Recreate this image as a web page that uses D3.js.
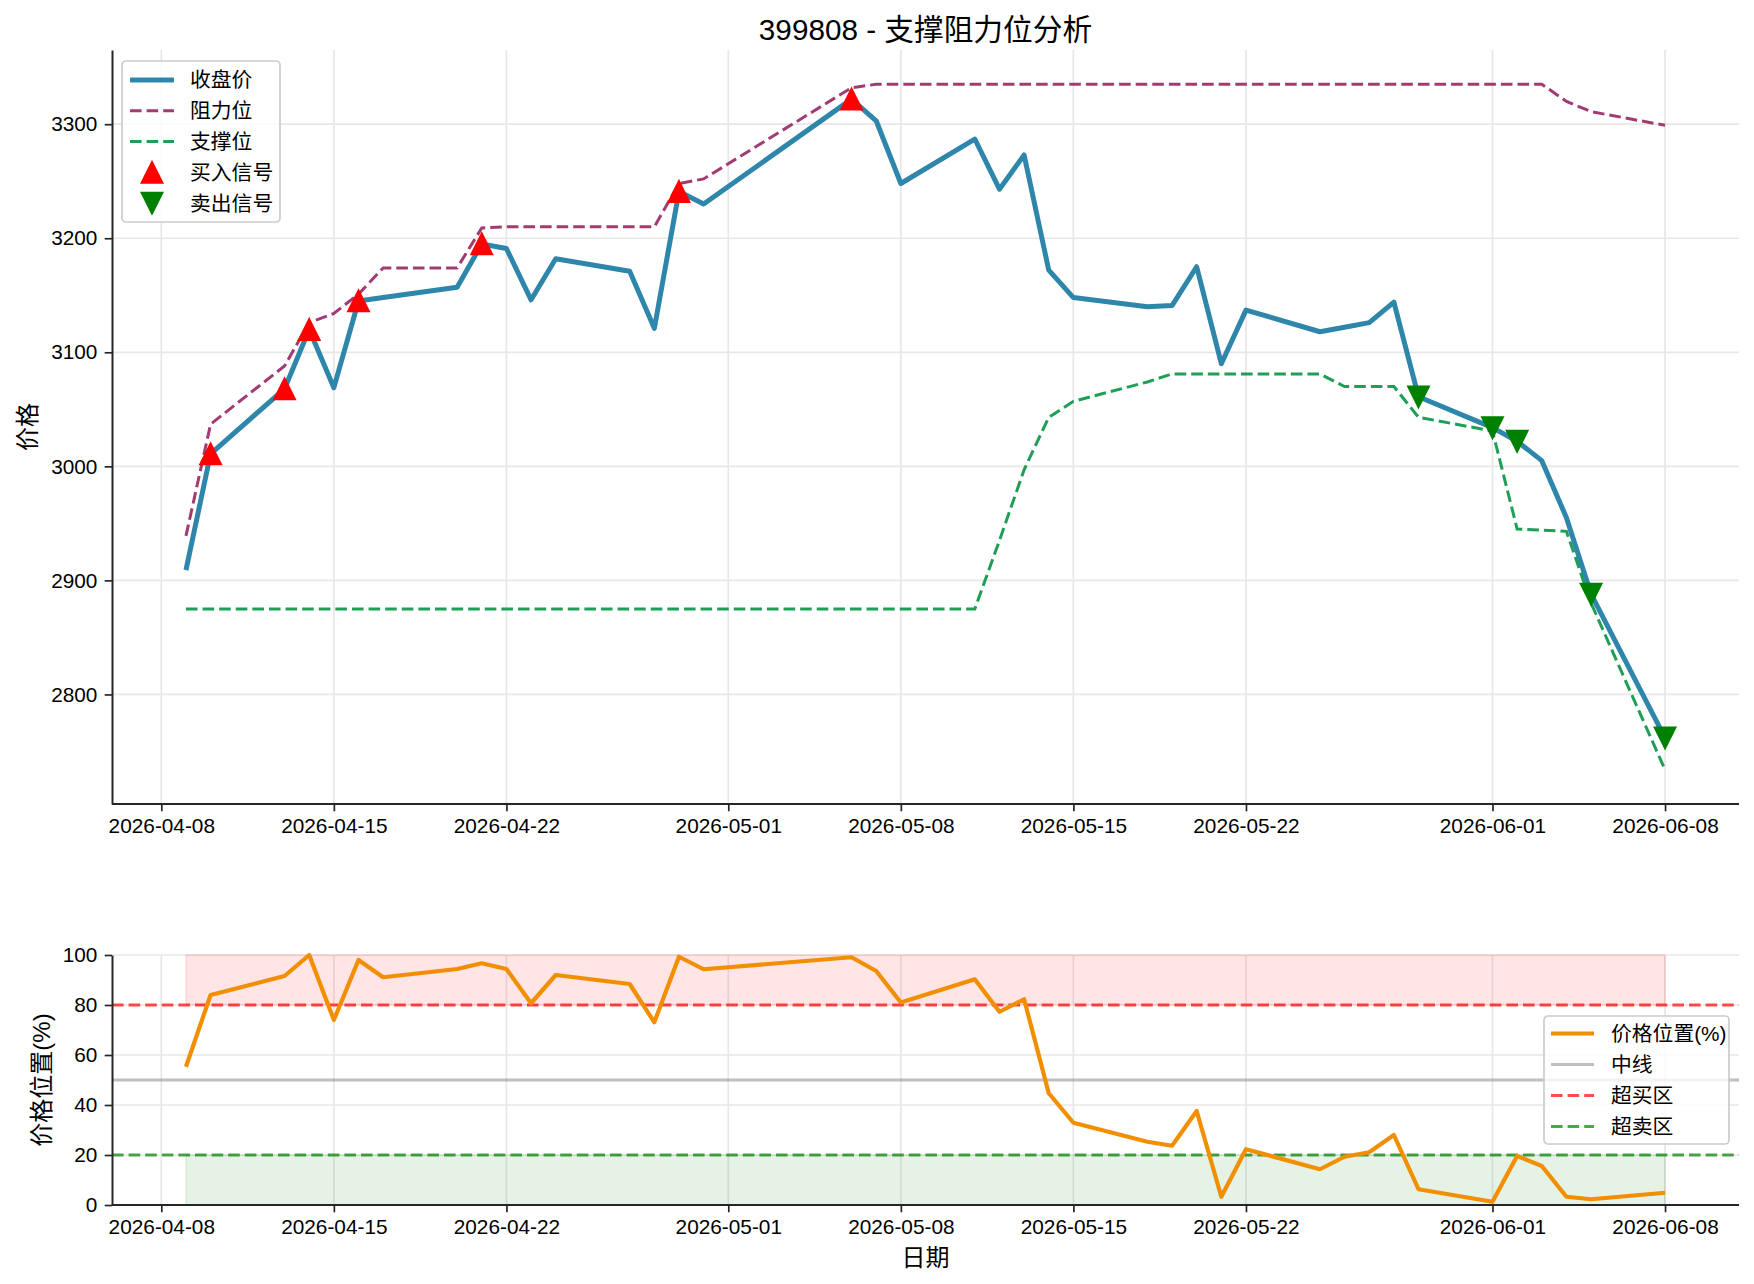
<!DOCTYPE html>
<html>
<head>
<meta charset="utf-8">
<script src="https://cdn.jsdelivr.net/npm/d3@7"></script>
<style>
    body { margin: 0; background: #ffffff; }
    svg text { font-family: "Liberation Sans", "Noto Sans CJK SC", sans-serif; fill: #000000; }
</style>
</head>
<body>
<div id="chart"></div>
<script>
// Trading days shown on the chart
const dates = [
    "2026-04-09", "2026-04-10", "2026-04-13", "2026-04-14", "2026-04-15", "2026-04-16", "2026-04-17",
    "2026-04-20", "2026-04-21", "2026-04-22", "2026-04-23", "2026-04-24", "2026-04-27", "2026-04-28",
    "2026-04-29", "2026-04-30", "2026-05-06", "2026-05-07", "2026-05-08", "2026-05-11", "2026-05-12",
    "2026-05-13", "2026-05-14", "2026-05-15", "2026-05-18", "2026-05-19", "2026-05-20", "2026-05-21",
    "2026-05-22", "2026-05-25", "2026-05-26", "2026-05-27", "2026-05-28", "2026-05-29", "2026-06-01",
    "2026-06-02", "2026-06-03", "2026-06-04", "2026-06-05", "2026-06-08"
];

const closePrice = [
    2909, 3011, 3068, 3120, 3069, 3145, 3148, 3157, 3195, 3191,
    3146, 3182, 3171, 3121, 3241, 3230, 3322, 3303, 3248, 3287,
    3243, 3273, 3172, 3148, 3140, 3141, 3175, 3090, 3137, 3118,
    3122, 3126, 3144, 3061, 3034, 3022, 3005, 2955, 2888, 2762
];

const resistance = [
    2939, 3037, 3088, 3126, 3134, 3151, 3174, 3174, 3209, 3210,
    3210, 3210, 3210, 3210, 3248, 3252, 3332, 3335, 3335, 3335,
    3335, 3335, 3335, 3335, 3335, 3335, 3335, 3335, 3335, 3335,
    3335, 3335, 3335, 3335, 3335, 3335, 3335, 3320, 3311, 3299
];

const support = [
    2875, 2875, 2875, 2875, 2875, 2875, 2875, 2875, 2875, 2875,
    2875, 2875, 2875, 2875, 2875, 2875, 2875, 2875, 2875, 2875,
    2935, 2997, 3043, 3057, 3074, 3081, 3081, 3081, 3081, 3081,
    3070, 3070, 3070, 3043, 3031, 2945, 2944, 2943, 2880, 2734
];

// Price position inside the support/resistance band (%)
const position = [
    55.3, 84.0, 91.6, 100.0, 74.0, 98.0, 91.1, 94.4, 96.7, 94.4,
    80.7, 92.0, 88.4, 73.1, 99.3, 94.3, 99.1, 93.6, 81.0, 90.3,
    77.3, 82.3, 44.7, 32.9, 25.3, 23.7, 37.6, 3.3, 22.3, 14.3,
    19.3, 21.1, 28.0, 6.3, 1.3, 19.6, 15.6, 3.3, 2.3, 4.9
];

const buyDates = ["2026-04-10", "2026-04-13", "2026-04-14", "2026-04-16", "2026-04-21", "2026-04-29", "2026-05-06"];
const sellDates = ["2026-05-29", "2026-06-01", "2026-06-02", "2026-06-05", "2026-06-08"];

// Tick labels
const dateTicks = ["2026-04-08", "2026-04-15", "2026-04-22", "2026-05-01", "2026-05-08",
                   "2026-05-15", "2026-05-22", "2026-06-01", "2026-06-08"];
const priceTicks = [2800, 2900, 3000, 3100, 3200, 3300];
const positionTicks = [0, 20, 40, 60, 80, 100];
const zoneLevels = [80, 50, 20];   // overbought, middle, oversold

// Layout (pixels)
const width = 1754;
const height = 1284;
const plotLeft = 112;
const plotRight = 1739;
const priceTop = 50;
const priceBottom = 804;
const posTop = 955;
const posBottom = 1205;
const fontSize = 20.8;
const labelSize = 24;

const COLORS = {
    close: "#2E86AB",
    resistance: "#A23B72",
    support: "#1E9E56",
    position: "#F18F01",
    buy: "#FF0000",
    sell: "#008000",
    spine: "#262626",
    grid: "#e7e7e7"
};

const parse = d3.timeParse("%Y-%m-%d");
const rows = dates.map((d, i) => ({
    date: parse(d),
    close: closePrice[i],
    res: resistance[i],
    sup: support[i],
    pos: position[i]
}));
const closeByDate = new Map(dates.map((d, i) => [d, closePrice[i]]));

const svg = d3.select("#chart").append("svg")
    .attr("width", width)
    .attr("height", height)
    .attr("viewBox", `0 0 ${width} ${height}`);

// x scale: data range plus 5% margin on both sides
const first = rows[0].date;
const last = rows[rows.length - 1].date;
const span = (last - first) * 0.05;
const x = d3.scaleTime()
    .domain([new Date(+first - span), new Date(+last + span)])
    .range([plotLeft, plotRight]);

// y scale for price: all series plus 5% margin
const allPrices = closePrice.concat(resistance, support);
const lo = d3.min(allPrices);
const hi = d3.max(allPrices);
const yPad = (hi - lo) * 0.05;
const yPrice = d3.scaleLinear().domain([lo - yPad, hi + yPad]).range([priceBottom, priceTop]);
const yPos = d3.scaleLinear().domain([0, 100]).range([posBottom, posTop]);

const xTickDates = dateTicks.map(parse);

// Grid lines for one panel
function drawGrid(yScale, yTicks, top, bottom) {
    const g = svg.append("g").attr("class", "grid");
    g.selectAll(".vgrid")
        .data(xTickDates)
        .enter()
        .append("line")
        .attr("x1", d => x(d)).attr("x2", d => x(d))
        .attr("y1", top).attr("y2", bottom)
        .attr("stroke", COLORS.grid)
        .attr("stroke-width", 1.7);
    g.selectAll(".hgrid")
        .data(yTicks)
        .enter()
        .append("line")
        .attr("x1", plotLeft).attr("x2", plotRight)
        .attr("y1", d => yScale(d)).attr("y2", d => yScale(d))
        .attr("stroke", COLORS.grid)
        .attr("stroke-width", 1.7);
}

// Axes with only left and bottom spines
function drawAxes(yScale, yTicks, bottom) {
    const xAxis = svg.append("g")
        .attr("transform", `translate(0,${bottom})`)
        .call(d3.axisBottom(x)
            .tickValues(xTickDates)
            .tickFormat(d3.timeFormat("%Y-%m-%d"))
            .tickSize(7.3)
            .tickPadding(7)
            .tickSizeOuter(0));
    const yAxis = svg.append("g")
        .attr("transform", `translate(${plotLeft},0)`)
        .call(d3.axisLeft(yScale)
            .tickValues(yTicks)
            .tickFormat(d3.format("d"))
            .tickSize(7.3)
            .tickPadding(7.3)
            .tickSizeOuter(0));
    [xAxis, yAxis].forEach(a => {
        a.attr("font-size", fontSize).attr("font-family", null);
        a.select(".domain").attr("stroke", COLORS.spine).attr("stroke-width", 2);
        a.selectAll(".tick line").attr("stroke", COLORS.spine).attr("stroke-width", 1.7);
    });
    xAxis.select(".domain").attr("d", `M${plotLeft},0H${plotRight}`);
}

// Triangle marker, matplotlib style (centered box)
function triangle(up, half) {
    if (up) return `M0,${-half}L${half},${half}L${-half},${half}Z`;
    return `M0,${half}L${half},${-half}L${-half},${-half}Z`;
}

// ---------- Price panel ----------
drawGrid(yPrice, priceTicks, priceTop, priceBottom);

const priceLine = key => d3.line().x(d => x(d.date)).y(d => yPrice(d[key]));

svg.append("path")
    .datum(rows)
    .attr("d", priceLine("close"))
    .attr("fill", "none")
    .attr("stroke", COLORS.close)
    .attr("stroke-width", 5)
    .attr("stroke-linejoin", "round");

svg.append("path")
    .datum(rows)
    .attr("d", priceLine("res"))
    .attr("fill", "none")
    .attr("stroke", COLORS.resistance)
    .attr("stroke-width", 3)
    .attr("stroke-dasharray", "11.6,5");

svg.append("path")
    .datum(rows)
    .attr("d", priceLine("sup"))
    .attr("fill", "none")
    .attr("stroke", COLORS.support)
    .attr("stroke-width", 3)
    .attr("stroke-dasharray", "11.6,5");

svg.selectAll(".buy")
    .data(buyDates)
    .enter()
    .append("path")
    .attr("class", "buy")
    .attr("transform", d => `translate(${x(parse(d))},${yPrice(closeByDate.get(d))})`)
    .attr("d", triangle(true, 10.4))
    .attr("fill", COLORS.buy)
    .attr("stroke", COLORS.buy)
    .attr("stroke-width", 2);

svg.selectAll(".sell")
    .data(sellDates)
    .enter()
    .append("path")
    .attr("class", "sell")
    .attr("transform", d => `translate(${x(parse(d))},${yPrice(closeByDate.get(d))})`)
    .attr("d", triangle(false, 10.4))
    .attr("fill", COLORS.sell)
    .attr("stroke", COLORS.sell)
    .attr("stroke-width", 2);

drawAxes(yPrice, priceTicks, priceBottom);

// Price legend
const legend1 = svg.append("g").attr("transform", "translate(122,61)");
legend1.append("rect")
    .attr("width", 158).attr("height", 161).attr("rx", 4)
    .attr("fill", "rgba(255,255,255,0.8)")
    .attr("stroke", "#cccccc").attr("stroke-width", 1.7);
const legend1Items = [
    { label: "收盘价", type: "line", color: COLORS.close, w: 5 },
    { label: "阻力位", type: "dash", color: COLORS.resistance, w: 3 },
    { label: "支撑位", type: "dash", color: COLORS.support, w: 3 },
    { label: "买入信号", type: "up", color: COLORS.buy },
    { label: "卖出信号", type: "down", color: COLORS.sell }
];
legend1Items.forEach((item, i) => {
    const cy = 19 + i * 30.8;
    if (item.type === "up" || item.type === "down") {
        legend1.append("path")
            .attr("transform", `translate(30,${cy})`)
            .attr("d", triangle(item.type === "up", 10.4))
            .attr("fill", item.color).attr("stroke", item.color).attr("stroke-width", 2);
    } else {
        legend1.append("line")
            .attr("x1", 8).attr("x2", 52).attr("y1", cy).attr("y2", cy)
            .attr("stroke", item.color).attr("stroke-width", item.w)
            .attr("stroke-dasharray", item.type === "dash" ? "11.6,5" : null);
    }
    legend1.append("text")
        .attr("x", 68).attr("y", cy).attr("dy", "0.36em")
        .attr("font-size", fontSize)
        .text(item.label);
});

// ---------- Position panel ----------
drawGrid(yPos, positionTicks, posTop, posBottom);

// Shaded overbought / oversold zones across the data range
const zones = [[zoneLevels[0], 100, "rgba(255,0,0,0.1)"], [0, zoneLevels[2], "rgba(0,128,0,0.1)"]];
svg.selectAll(".zone")
    .data(zones)
    .enter()
    .append("rect")
    .attr("class", "zone")
    .attr("x", x(first))
    .attr("width", x(last) - x(first))
    .attr("y", d => yPos(d[1]))
    .attr("height", d => yPos(d[0]) - yPos(d[1]))
    .attr("fill", d => d[2])
    .attr("stroke", d => d[2])
    .attr("stroke-width", 1.5);

const levelStyles = [
    { color: "rgba(255,0,0,0.7)", dash: "11.6,5" },
    { color: "rgba(128,128,128,0.5)", dash: null },
    { color: "rgba(0,128,0,0.7)", dash: "11.6,5" }
];
svg.selectAll(".level")
    .data(zoneLevels)
    .enter()
    .append("line")
    .attr("class", "level")
    .attr("x1", plotLeft).attr("x2", plotRight)
    .attr("y1", d => yPos(d)).attr("y2", d => yPos(d))
    .attr("stroke", (d, i) => levelStyles[i].color)
    .attr("stroke-width", 3)
    .attr("stroke-dasharray", (d, i) => levelStyles[i].dash);

svg.append("path")
    .datum(rows)
    .attr("d", d3.line().x(d => x(d.date)).y(d => yPos(d.pos)))
    .attr("fill", "none")
    .attr("stroke", COLORS.position)
    .attr("stroke-width", 4.2)
    .attr("stroke-linejoin", "round");

drawAxes(yPos, positionTicks, posBottom);

// Position legend
const legend2 = svg.append("g").attr("transform", "translate(1544,1016)");
legend2.append("rect")
    .attr("width", 185).attr("height", 128).attr("rx", 4)
    .attr("fill", "rgba(255,255,255,0.8)")
    .attr("stroke", "#cccccc").attr("stroke-width", 1.7);
const legend2Items = [
    { label: "价格位置(%)", color: COLORS.position, w: 4.2, dash: null },
    { label: "中线", color: levelStyles[1].color, w: 3, dash: null },
    { label: "超买区", color: levelStyles[0].color, w: 3, dash: "11.6,5" },
    { label: "超卖区", color: levelStyles[2].color, w: 3, dash: "11.6,5" }
];
legend2Items.forEach((item, i) => {
    const cy = 17.5 + i * 31;
    legend2.append("line")
        .attr("x1", 7).attr("x2", 50).attr("y1", cy).attr("y2", cy)
        .attr("stroke", item.color).attr("stroke-width", item.w)
        .attr("stroke-dasharray", item.dash);
    legend2.append("text")
        .attr("x", 67).attr("y", cy).attr("dy", "0.36em")
        .attr("font-size", fontSize)
        .text(item.label);
});

// ---------- Titles and labels ----------
const midX = (plotLeft + plotRight) / 2;
svg.append("text")
    .attr("x", midX).attr("y", 40)
    .attr("text-anchor", "middle")
    .attr("font-size", 29.7)
    .text("399808 - 支撑阻力位分析");

svg.append("text")
    .attr("transform", `translate(36,${(priceTop + priceBottom) / 2}) rotate(-90)`)
    .attr("text-anchor", "middle")
    .attr("font-size", labelSize)
    .text("价格");

svg.append("text")
    .attr("transform", `translate(50,${(posTop + posBottom) / 2}) rotate(-90)`)
    .attr("text-anchor", "middle")
    .attr("font-size", labelSize)
    .text("价格位置(%)");

svg.append("text")
    .attr("x", midX).attr("y", 1266)
    .attr("text-anchor", "middle")
    .attr("font-size", labelSize)
    .text("日期");
</script>
</body>
</html>
